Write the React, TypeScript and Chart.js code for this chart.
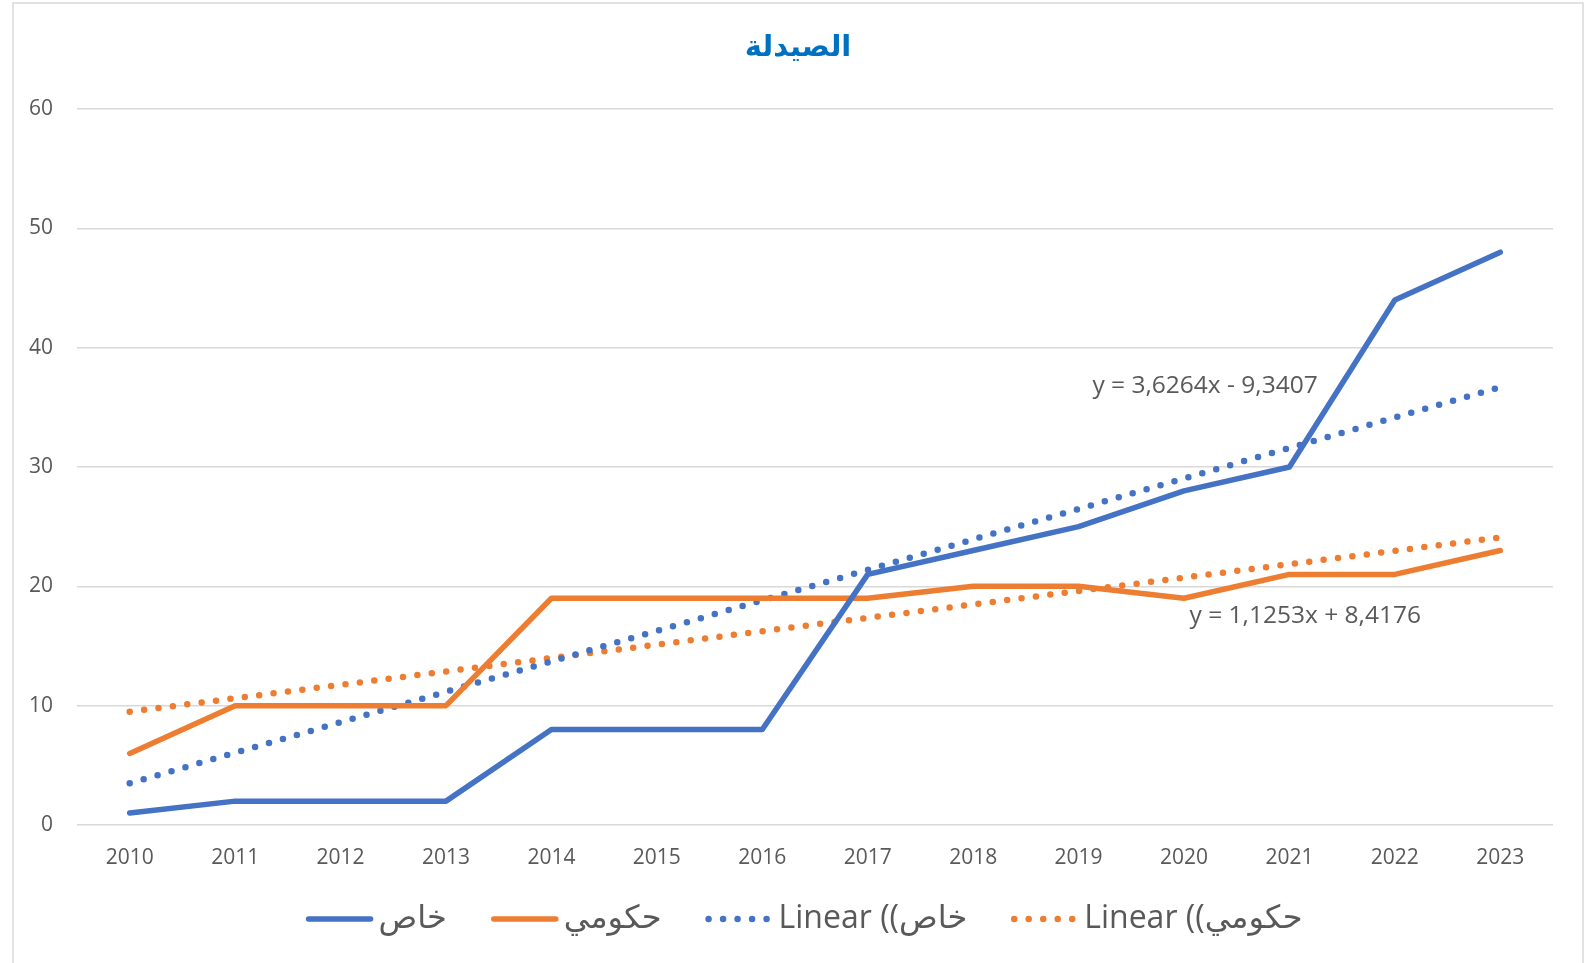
import React, { useEffect, useRef } from "react";
import { Chart, registerables } from "chart.js";

Chart.register(...registerables);

const TITLE = "الصيدلة";
const YEARS = ["2010", "2011", "2012", "2013", "2014", "2015", "2016", "2017", "2018", "2019", "2020", "2021", "2022", "2023"];
const PRIVATE = [1, 2, 2, 2, 8, 8, 8, 21, 23, 25, 28, 30, 44, 48];
const PUBLIC = [6, 10, 10, 10, 19, 19, 19, 19, 20, 20, 19, 21, 21, 23];
// trend lines as drawn in the picture (endpoints only, straight line between)
const PRIVATE_TREND = [3.5, null, null, null, null, null, null, null, null, null, null, null, null, 36.7];
const PUBLIC_TREND = [9.5, null, null, null, null, null, null, null, null, null, null, null, null, 24.1];
const SERIES_NAMES = ["خاص", "حكومي", "Linear ((خاص", "Linear ((حكومي"];
const Y_TICKS = [0, 10, 20, 30, 40, 50, 60];
const EQ_PRIVATE = "y = 3,6264x - 9,3407";
const EQ_PUBLIC = "y = 1,1253x + 8,4176";
const EQ_PRIVATE_AT = [10.2, 36.8];
const EQ_PUBLIC_AT = [11.15, 17.5];

const BLUE = "#4472c4";
const ORANGE = "#ed7d31";
const TEXT = "#595959";
const GRID = "#d9d9d9";
const FONT = "'Open Sans', 'DejaVu Sans', sans-serif";

const framePlugin = {
  id: "frame",
  beforeDraw(chart: any) {
    const ctx = chart.ctx;
    ctx.save();
    ctx.fillStyle = "#ffffff";
    ctx.fillRect(0, 0, chart.width, chart.height);
    ctx.strokeStyle = GRID;
    ctx.lineWidth = 1.5;
    ctx.strokeRect(13, 3, 1570, 975);
    ctx.restore();
  },
};

const decorPlugin = {
  id: "decor",
  afterDraw(chart: any) {
    const ctx = chart.ctx;
    const xs = chart.scales.x;
    const ys = chart.scales.y;
    ctx.save();
    // title
    ctx.fillStyle = "#0070c0";
    ctx.font = "bold 29px 'DejaVu Sans', sans-serif";
    ctx.textAlign = "center";
    ctx.textBaseline = "middle";
    ctx.fillText(TITLE, 798, 48);

    // equations
    ctx.fillStyle = TEXT;
    ctx.font = "24.5px " + FONT;
    ctx.fillText(EQ_PRIVATE, xs.getPixelForValue(EQ_PRIVATE_AT[0]), ys.getPixelForValue(EQ_PRIVATE_AT[1]));
    ctx.fillText(EQ_PUBLIC, xs.getPixelForValue(EQ_PUBLIC_AT[0]), ys.getPixelForValue(EQ_PUBLIC_AT[1]));

    // legend
    ctx.font = "32px " + FONT;
    ctx.textAlign = "left";
    const sampleW = 68;
    const gapSample = 5;
    const gapItem = 44;
    const colors = [BLUE, ORANGE, BLUE, ORANGE];
    const dotted = [false, false, true, true];
    const widths = SERIES_NAMES.map((n) => sampleW + gapSample + ctx.measureText(n).width);
    const total = widths.reduce((a, b) => a + b, 0) + gapItem * (widths.length - 1);
    let x = 804 - total / 2;
    const y = 919;
    SERIES_NAMES.forEach((name, i) => {
      ctx.beginPath();
      ctx.strokeStyle = colors[i];
      ctx.lineCap = "round";
      if (dotted[i]) {
        ctx.lineWidth = 6.5;
        ctx.setLineDash([0, 14.5]);
        ctx.moveTo(x + 3, y);
        ctx.lineTo(x + sampleW, y);
      } else {
        ctx.lineWidth = 5.5;
        ctx.setLineDash([]);
        ctx.moveTo(x + 3, y);
        ctx.lineTo(x + sampleW - 3, y);
      }
      ctx.stroke();
      ctx.setLineDash([]);
      ctx.fillStyle = TEXT;
      ctx.fillText(name, x + sampleW + gapSample, y);
      x += widths[i] + gapItem;
    });
    ctx.restore();
  },
};

export default function App() {
  const ref = useRef<HTMLCanvasElement>(null);
  useEffect(() => {
    if (!ref.current) return;
    const chart = new Chart(ref.current, {
      type: "line",
      data: {
        labels: YEARS,
        datasets: [
          {
            label: SERIES_NAMES[0],
            data: PRIVATE,
            borderColor: BLUE,
            backgroundColor: BLUE,
            borderWidth: 5.5,
            pointRadius: 0,
            borderJoinStyle: "round",
            borderCapStyle: "round",
            tension: 0,
          },
          {
            label: SERIES_NAMES[1],
            data: PUBLIC,
            borderColor: ORANGE,
            backgroundColor: ORANGE,
            borderWidth: 5.5,
            pointRadius: 0,
            borderJoinStyle: "round",
            borderCapStyle: "round",
            tension: 0,
          },
          {
            label: SERIES_NAMES[2],
            data: PRIVATE_TREND,
            borderColor: BLUE,
            borderWidth: 6.5,
            borderDash: [0, 14.5],
            borderCapStyle: "round",
            pointRadius: 0,
            spanGaps: true,
          },
          {
            label: SERIES_NAMES[3],
            data: PUBLIC_TREND,
            borderColor: ORANGE,
            borderWidth: 6.5,
            borderDash: [0, 14.5],
            borderCapStyle: "round",
            pointRadius: 0,
            spanGaps: true,
          },
        ] as any,
      },
      options: {
        animation: false,
        responsive: false,
        maintainAspectRatio: false,
        layout: { padding: { left: 0, right: 38, top: 109, bottom: 0 } },
        plugins: {
          legend: { display: false },
          title: { display: false },
          tooltip: { enabled: false },
        },
        scales: {
          x: {
            type: "category",
            offset: true,
            grid: { display: false, drawTicks: false },
            border: { display: false },
            ticks: {
              color: TEXT,
              font: { family: FONT, size: 21 },
              padding: 20,
              maxRotation: 0,
              autoSkip: false,
            },
            afterFit(s: any) {
              s.height = 138;
            },
          },
          y: {
            min: 0,
            max: 60,
            afterBuildTicks(s: any) {
              s.ticks = Y_TICKS.map((v) => ({ value: v }));
            },
            grid: { color: GRID, lineWidth: 1.5, drawTicks: false },
            border: { display: false },
            ticks: {
              color: TEXT,
              font: { family: FONT, size: 21 },
              padding: 24,
            },
            afterFit(s: any) {
              s.width = 77;
            },
          },
        },
      } as any,
      plugins: [framePlugin, decorPlugin],
    });
    return () => chart.destroy();
  }, []);
  return (
    <div style={{ position: "fixed", left: 0, top: 0, width: 1591, height: 963 }}>
      <canvas ref={ref} width={1591} height={963} style={{ width: 1591, height: 963, display: "block" }} />
    </div>
  );
}
